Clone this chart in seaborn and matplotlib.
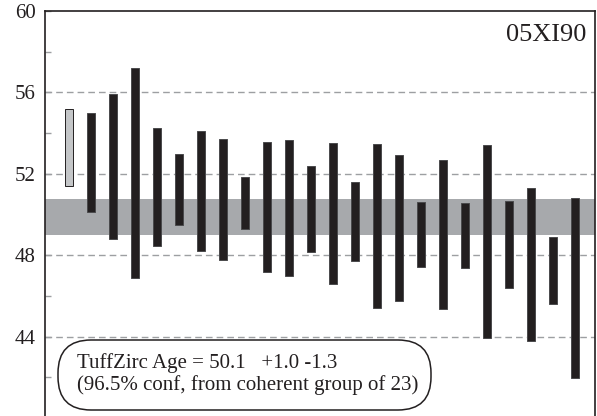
import matplotlib
matplotlib.use("Agg")
import matplotlib.pyplot as plt
from matplotlib.patches import FancyBboxPatch
from matplotlib.transforms import IdentityTransform
from matplotlib.ticker import FixedLocator
import seaborn as sns

# Zircon spot ages (Ma): lower and upper ends of each 2-sigma bar
sample_name = "05XI90"
spot_ids = [f"z{i:02d}" for i in range(1, 25)]
age_low = [51.38, 50.12, 48.80, 46.90, 48.46, 49.49, 48.23, 47.77,
           49.27, 47.16, 47.00, 48.14, 46.57, 47.72, 45.39, 45.77,
           47.44, 45.35, 47.36, 43.95, 46.38, 43.79, 45.59, 41.99]
age_high = [55.18, 55.00, 55.90, 57.21, 54.25, 52.99, 54.09, 53.72,
            51.84, 53.58, 53.66, 52.40, 53.50, 51.61, 53.46, 52.92,
            50.63, 52.68, 50.58, 53.41, 50.66, 51.32, 48.90, 50.83]
group = ["rejected"] + ["coherent"] * 23

# TuffZirc age band and summary
band_low, band_high = 49.0, 50.75
age_line1 = "TuffZirc Age = 50.1   +1.0 -1.3"
age_line2 = "(96.5% conf, from coherent group of 23)"

y_major = [44, 48, 52, 56, 60]
y_minor = [42, 46, 50, 54, 58]

sns.set_theme(style="ticks")
plt.rcParams["font.family"] = ["Liberation Serif", "DejaVu Serif"]

W, H = 597, 416
fig = plt.figure(figsize=(W / 100, H / 100), dpi=100)
ax = fig.add_axes([45 / W, -2.2 / H, 549.5 / W, 407.4 / H])

spans = [h - l for l, h in zip(age_low, age_high)]
face = {"rejected": "#c4c6c8", "coherent": "#231f20"}
edge = {"rejected": "#231f20", "coherent": "#4a4a4c"}

ax.axhspan(band_low, band_high, color="#a7a9ac", lw=0, zorder=1)

sns.barplot(x=spot_ids, y=spans, order=spot_ids, bottom=age_low,
            width=0.36, errorbar=None, ax=ax, color="#231f20", saturation=1,
            facecolor=[face[g] for g in group],
            edgecolor=[edge[g] for g in group],
            linewidth=0.7, zorder=3)

ax.set_xlim(-1.08, 23.9)
ax.set_ylim(40, 60)
ax.set_xlabel("")
ax.set_ylabel("")
ax.set_xticks([])

ax.yaxis.set_major_locator(FixedLocator(y_major))
ax.yaxis.set_minor_locator(FixedLocator(y_minor))
ax.set_yticklabels([str(v) for v in y_major])
ax.tick_params(axis="y", which="both", direction="in", length=4,
               width=1.0, color="#9d9fa2", pad=6.5, labelsize=15,
               labelcolor="#231f20")

for y in y_major[:-1]:
    ax.axhline(y, color="#9d9fa2", lw=1.0, ls=(0, (4.8, 2.9)), zorder=2)

for side in ["left", "top", "right"]:
    ax.spines[side].set_visible(True)
    ax.spines[side].set_color("#231f20")
    ax.spines[side].set_linewidth(1.2)
    ax.spines[side].set_zorder(5)
ax.spines["bottom"].set_visible(False)

fig.text(586 / W, (H - 41) / H, sample_name, ha="right", va="baseline",
         fontsize=19, color="#231f20")

box = FancyBboxPatch((58, 6), 373, 70, boxstyle="round,pad=0,rounding_size=33",
                     transform=IdentityTransform(), facecolor="white",
                     edgecolor="#231f20", lw=1.1, zorder=5)
fig.add_artist(box)
fig.text(76.7 / W, (H - 368.3) / H, age_line1, ha="left", va="baseline",
         fontsize=15, color="#231f20", zorder=6)
fig.text(76.7 / W, (H - 390) / H, age_line2, ha="left", va="baseline",
         fontsize=15, color="#231f20", zorder=6)

fig.savefig("out.png", dpi=100)
